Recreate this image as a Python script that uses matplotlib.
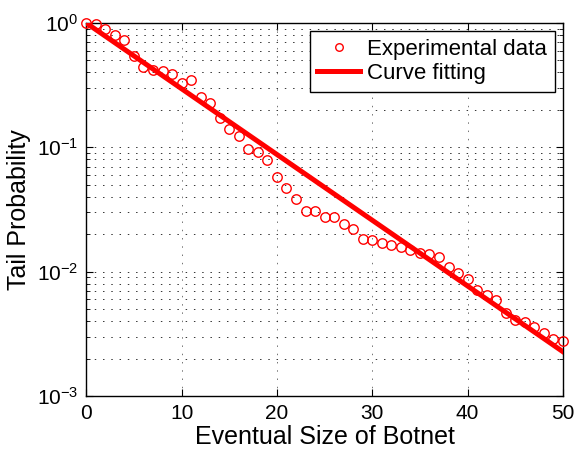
import matplotlib
matplotlib.use("Agg")
import matplotlib.pyplot as plt
from matplotlib.ticker import LogLocator, NullFormatter

# eventual botnet size vs tail probability
size = list(range(0, 51))
tail_prob = [1.0, 0.98, 0.89, 0.805, 0.726, 0.545, 0.44, 0.416, 0.411, 0.389,
             0.331, 0.346, 0.255, 0.226, 0.172, 0.1417, 0.124, 0.0969, 0.0922, 0.079,
             0.0577, 0.0473, 0.0386, 0.0306, 0.0307, 0.0277, 0.0274, 0.0243, 0.0222, 0.0182,
             0.0179, 0.0169, 0.0163, 0.0159, 0.0149, 0.0142, 0.0138, 0.0131, 0.0109, 0.0098,
             0.00876, 0.00707, 0.00648, 0.00588, 0.00467, 0.00408, 0.00393, 0.00361, 0.00319, 0.00288,
             0.00276]

# fitted exponential, end points
fit_x = [0, 50]
fit_y = [1.0, 0.00227]

plt.rcParams['font.family'] = ['Liberation Sans', 'DejaVu Sans']
plt.rcParams['mathtext.fontset'] = 'custom'
plt.rcParams['mathtext.rm'] = 'Liberation Sans'
plt.rcParams['mathtext.it'] = 'Liberation Sans:italic'

fig = plt.figure(figsize=(5.75, 4.51), dpi=100)
axis = fig.add_axes([0.150, 0.122, 0.829, 0.827])

axis.plot(size, tail_prob, linestyle="", marker="o", markersize=6.8,
          markerfacecolor="none", markeredgecolor="r", markeredgewidth=1.0,
          label="Experimental data", clip_on=False, zorder=3)
axis.plot(fit_x, fit_y, c="r", linewidth=3.6, label="Curve fitting", zorder=3)

axis.set_yscale('log')
axis.set_xlim(0, 50)
axis.set_ylim(1e-3, 1)
axis.set_xticks([0, 10, 20, 30, 40, 50])
axis.yaxis.set_major_locator(LogLocator(base=10, numticks=10))
axis.yaxis.set_minor_locator(LogLocator(base=10, subs=range(2, 10), numticks=10))
axis.yaxis.set_minor_formatter(NullFormatter())

axis.grid(True, which='major', axis='x', linestyle=(0, (1.5, 7)), color='0.45', linewidth=0.7)
axis.grid(True, which='both', axis='y', linestyle=(0, (1.5, 7)), color='0.2', linewidth=0.7)

axis.tick_params(which='both', direction='in', top=True, right=True, labelsize=15)
axis.tick_params(which='major', length=5, pad=6)
axis.tick_params(which='minor', length=3)
for s in axis.spines.values():
    s.set_linewidth(1.0)

axis.set_xlabel("Eventual Size of Botnet", fontsize=18, labelpad=1)
axis.set_ylabel("Tail Probability", fontsize=18, labelpad=4)

leg = axis.legend(loc='upper right', fontsize=16, fancybox=False, framealpha=1,
                  edgecolor='k', borderaxespad=0.35, handlelength=1.9,
                  borderpad=0.35, labelspacing=0.15, handletextpad=0.35,
                  markerscale=0.8)
leg.get_frame().set_linewidth(1.0)

fig.savefig("out.png", dpi=100)
